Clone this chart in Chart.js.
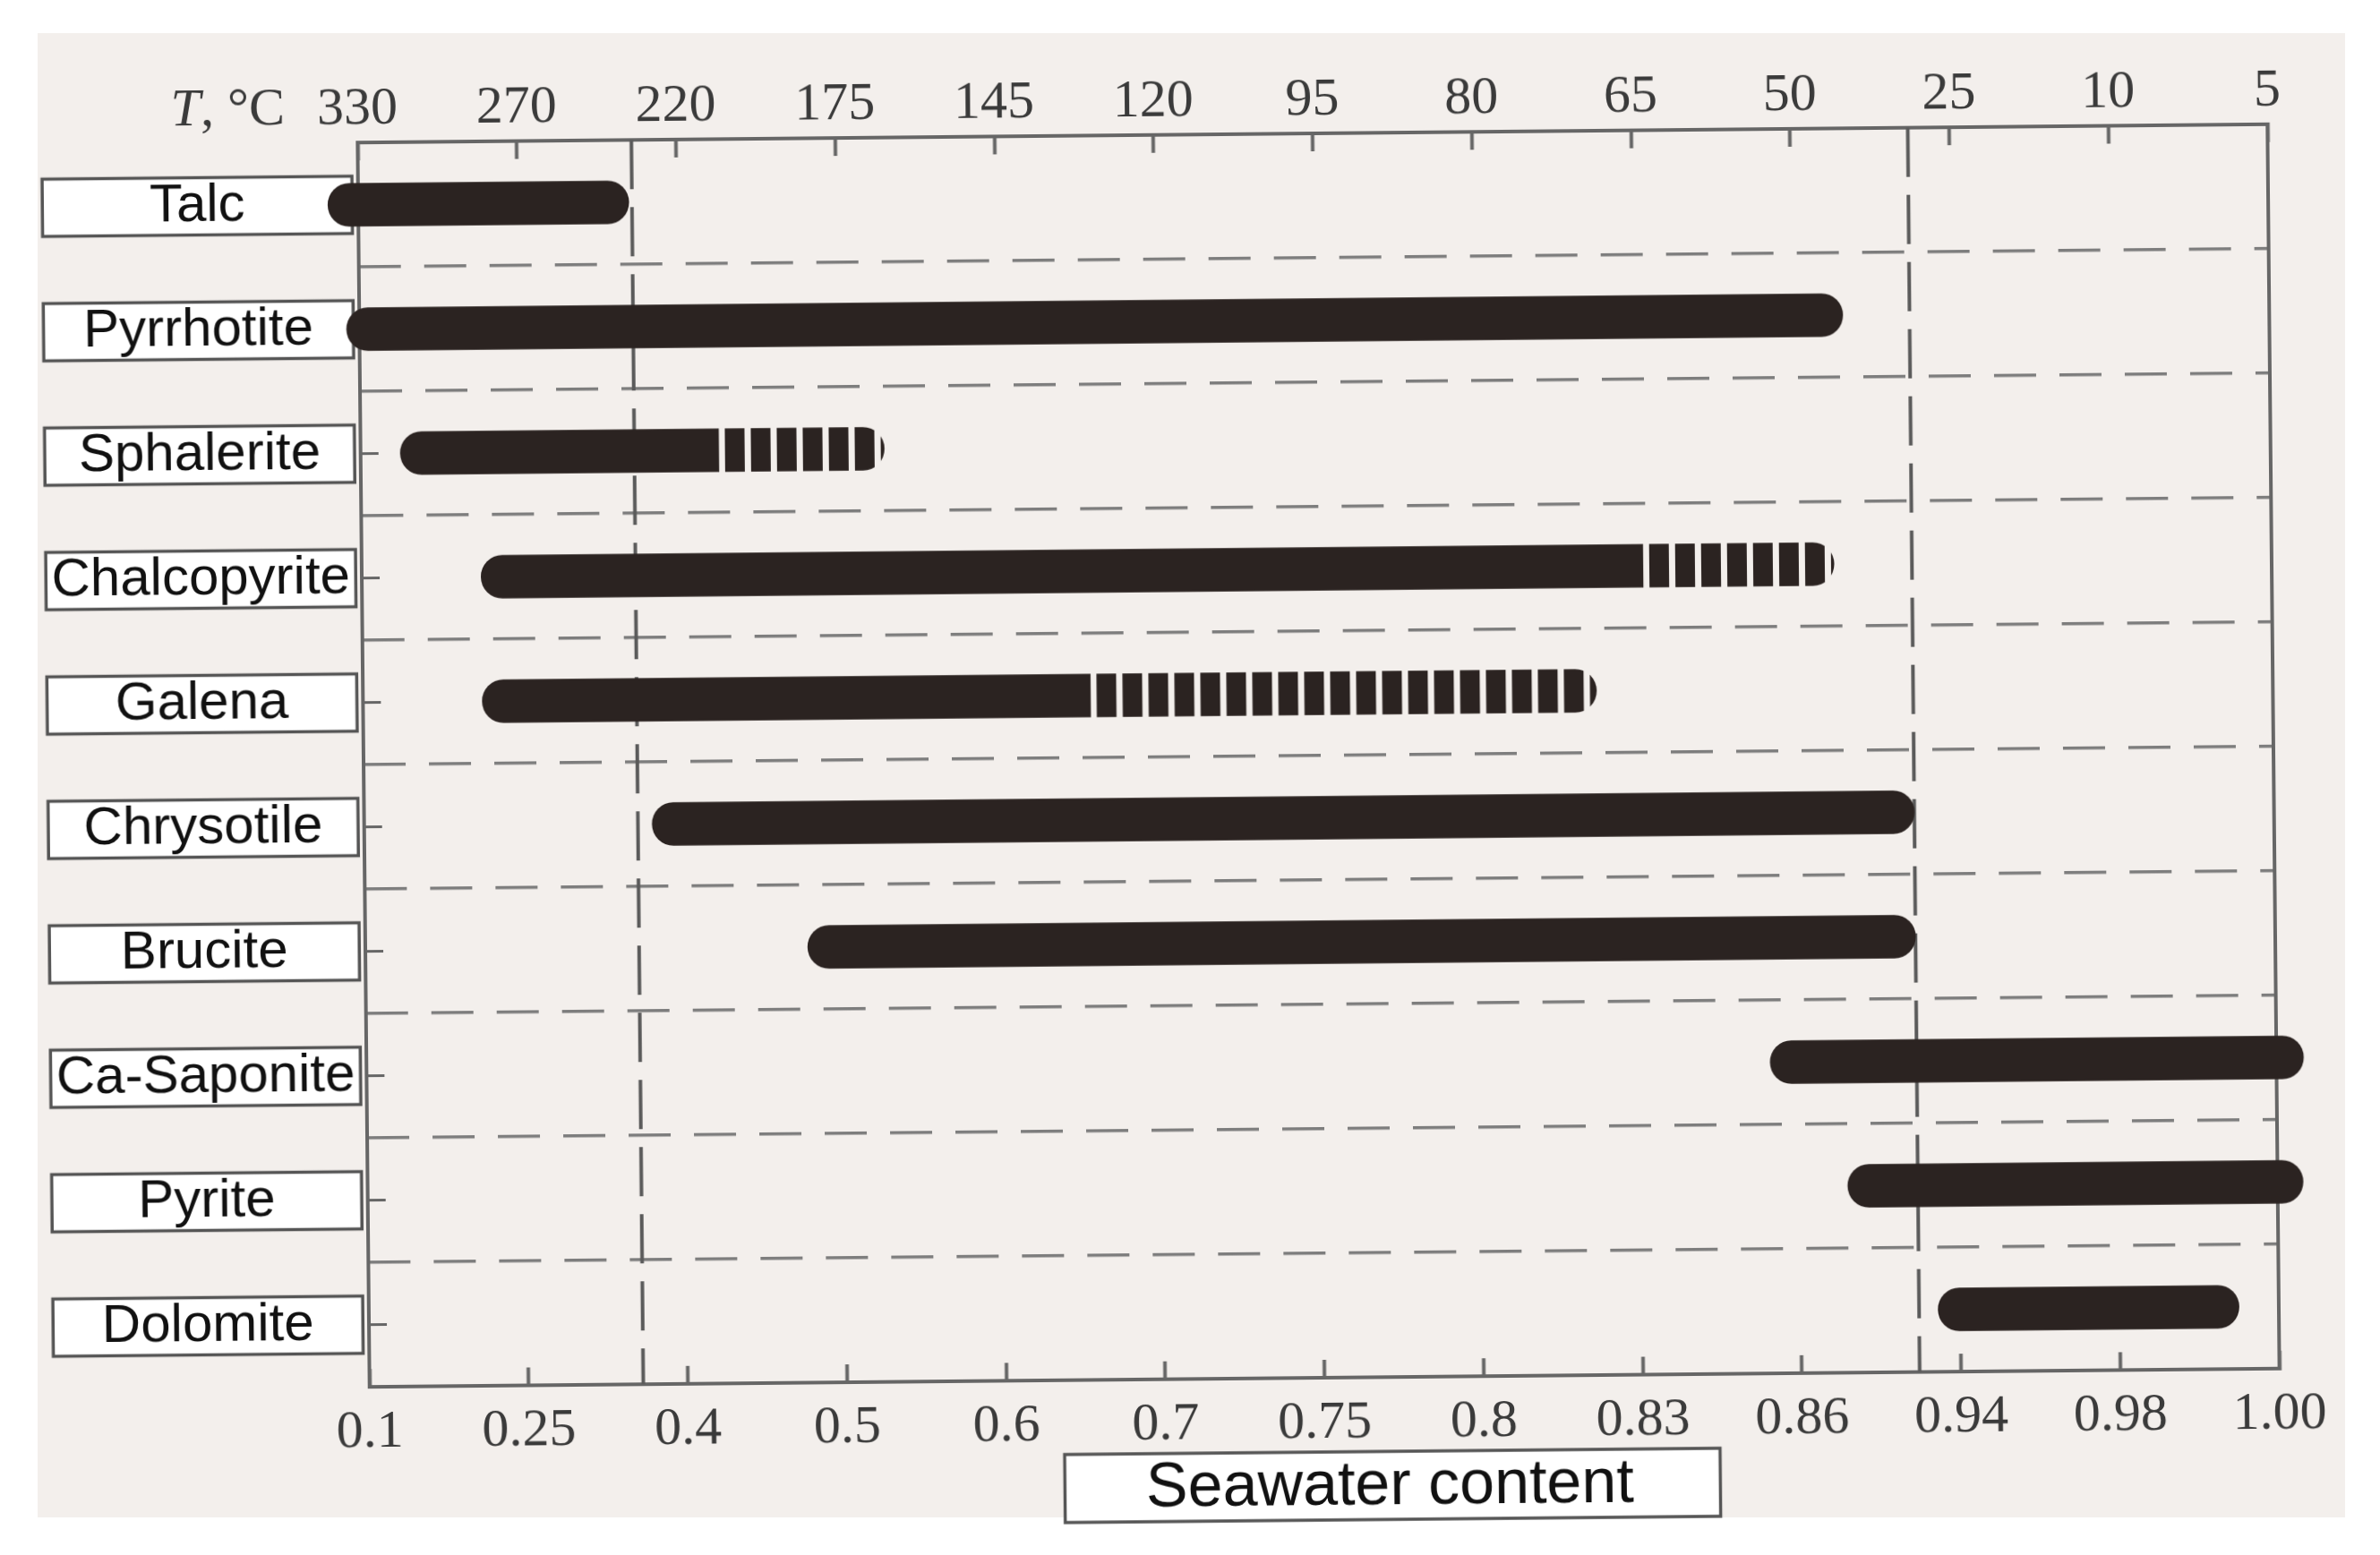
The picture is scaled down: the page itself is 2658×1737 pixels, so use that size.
<!DOCTYPE html>
<html>
<head>
<meta charset="utf-8">
<title>Mineral assemblages vs seawater content</title>
<script src="https://cdn.jsdelivr.net/npm/chart.js@4.4.1/dist/chart.umd.min.js"></script>
<style>
  html, body { margin: 0; padding: 0; background: #fff; overflow: hidden; }
  #page { position: absolute; left: 42px; top: 37px; width: 2577px; height: 1658px; background: #f3efec; }
  /* the scanned figure sits slightly tilted on the page */
  #wrap { position: absolute; left: 0; top: 0; width: 2658px; height: 1737px;
          transform: rotate(-0.55deg); transform-origin: 1472px 844px; }
</style>
</head>
<body>
<div id="page"></div>
<div id="wrap"><canvas id="chart"></canvas></div>
<script>
const minerals = ['Talc', 'Pyrrhotite', 'Sphalerite', 'Chalcopyrite', 'Galena', 'Chrysotile', 'Brucite', 'Ca-Saponite', 'Pyrite', 'Dolomite'];
const seawater = ['0.1', '0.25', '0.4', '0.5', '0.6', '0.7', '0.75', '0.8', '0.83', '0.86', '0.94', '0.98', '1.00'];
const temps = ['330', '270', '220', '175', '145', '120', '95', '80', '65', '50', '25', '10', '5'];

// bar extents on the tick-index scale (0 = first tick, 12 = last tick)
const barStart = [-0.19, -0.08, 0.25, 0.75, 0.75, 1.81, 2.78, 8.82, 9.30, 9.86];
const stripeStart = [null, null, 2.25, 8.05, 4.57, null, null, null, null, null];
const barEnd = [1.70, 9.32, 3.29, 9.25, 7.75, 9.74, 9.74, 12.17, 12.16, 11.75];
const boundaries = [1.72, 9.74];

const barColor = '#2b2321';
const pageColor = '#f3efec';
const frameColor = '#666';
const tickColor = '#3a3a3a';
const serif = '"Liberation Serif", "Times New Roman", serif';
const sans = '"Liberation Sans", Arial, sans-serif';

Chart.defaults.font.family = serif;

// striped fill for the uncertain part, aligned to the bar start
function stripes(chart, startPx) {
  const c = document.createElement('canvas');
  c.width = 29; c.height = 4;
  const g = c.getContext('2d');
  g.fillStyle = pageColor; g.fillRect(0, 0, 29, 4);
  g.fillStyle = barColor; g.fillRect(7, 0, 22, 4);
  const p = chart.ctx.createPattern(c, 'repeat');
  p.setTransform(new DOMMatrix([1, 0, 0, 1, startPx, 0]));
  return p;
}

const labelBoxes = {
  id: 'labelBoxes',
  beforeDraw(chart) {
    const s = chart.scales.y, ctx = chart.ctx;
    ctx.save();
    ctx.font = '60px ' + sans;
    const widest = Math.max(...minerals.map(m => ctx.measureText(m).width));
    const cx = s.right + 20 - 33 - widest / 2;
    ctx.fillStyle = '#fff';
    ctx.strokeStyle = '#555';
    ctx.lineWidth = 3.5;
    s.ticks.forEach((t, i) => {
      const y = s.getPixelForTick(i);
      ctx.fillRect(cx - 173, y - 32, 346, 64);
      ctx.strokeRect(cx - 173, y - 32, 346, 64);
    });
    ctx.restore();
  },
  beforeDatasetsDraw(chart) {
    const {ctx, chartArea} = chart, x = chart.scales.x;
    ctx.save();
    ctx.strokeStyle = '#5a5a5a';
    ctx.lineWidth = 4;
    ctx.setLineDash([55, 20]);
    boundaries.forEach(b => {
      const px = x.getPixelForValue(b);
      ctx.beginPath();
      ctx.moveTo(px, chartArea.top);
      ctx.lineTo(px, chartArea.bottom);
      ctx.stroke();
    });
    ctx.restore();
  },
  afterDraw(chart) {
    const {ctx, chartArea} = chart;
    ctx.save();
    // T, °C in front of the top axis
    const ty = chartArea.top - 37;
    const tx = chart.scales.x2.getPixelForValue(0) - 81;
    ctx.fillStyle = tickColor;
    ctx.textBaseline = 'middle';
    ctx.textAlign = 'right';
    ctx.font = '60px ' + serif;
    const rest = ', °C';
    ctx.fillText(rest, tx, ty);
    const w = ctx.measureText(rest).width;
    ctx.font = 'italic 60px ' + serif;
    ctx.fillText('T', tx - w, ty);

    // boxed axis title
    const bx = (chartArea.left + chartArea.right) / 2 + 75;
    const by = chartArea.bottom + 121;
    ctx.fillStyle = '#fff';
    ctx.strokeStyle = '#555';
    ctx.lineWidth = 3.5;
    ctx.fillRect(bx - 366, by - 38, 732, 76);
    ctx.strokeRect(bx - 366, by - 38, 732, 76);
    ctx.fillStyle = '#111';
    ctx.textAlign = 'center';
    ctx.font = '70px ' + sans;
    ctx.fillText('Seawater content', bx - 3, by + 2);
    ctx.restore();
  }
};

const xTicks = (labels, pad) => ({
  stepSize: 1, autoSkip: false, maxRotation: 0, padding: pad,
  color: tickColor, font: { family: serif, size: 60 },
  callback: v => labels[v]
});
const inwardTicks = { drawOnChartArea: false, drawTicks: true, tickLength: -20, tickWidth: 4, tickColor: frameColor };
const frame = { color: frameColor, width: 4 };

new Chart(document.getElementById('chart'), {
  type: 'bar',
  data: {
    labels: minerals,
    datasets: [
      {
        label: 'stable',
        data: minerals.map((m, i) => [barStart[i], stripeStart[i] ?? barEnd[i]]),
        backgroundColor: barColor,
        borderSkipped: false,
        borderRadius: c => stripeStart[c.dataIndex] == null ? 50 : { topLeft: 50, bottomLeft: 50, topRight: 0, bottomRight: 0 },
        barThickness: 48,
        grouped: false,
        clip: false
      },
      {
        label: 'possible',
        data: minerals.map((m, i) => stripeStart[i] == null ? null : [stripeStart[i], barEnd[i]]),
        backgroundColor: c => c.raw ? stripes(c.chart, c.chart.scales.x.getPixelForValue(c.raw[0])) : barColor,
        borderSkipped: false,
        borderRadius: { topLeft: 0, bottomLeft: 0, topRight: 50, bottomRight: 50 },
        barThickness: 48,
        grouped: false,
        clip: false
      }
    ]
  },
  options: {
    indexAxis: 'y',
    responsive: true,
    maintainAspectRatio: false,
    animation: false,
    events: [],
    layout: { padding: { left: 6, right: 119, top: 55, bottom: 76 } },
    plugins: { legend: { display: false }, tooltip: { enabled: false } },
    scales: {
      x: {
        type: 'linear', position: 'bottom', min: 0, max: 12,
        ticks: xTicks(seawater, 35),
        grid: inwardTicks,
        border: frame
      },
      x2: {
        type: 'linear', position: 'top', min: 0, max: 12,
        ticks: xTicks(temps, 21),
        grid: inwardTicks,
        border: frame
      },
      y: {
        type: 'category', position: 'left', offset: true,
        ticks: { crossAlign: 'center', padding: 33, color: '#111', font: { family: sans, size: 60 } },
        grid: { offset: false, drawOnChartArea: false, drawTicks: true, tickLength: -20, tickWidth: 3, tickColor: frameColor },
        border: frame,
        afterFit: s => { s.width = 400; }
      },
      yR: {
        type: 'category', position: 'right', offset: true,
        ticks: { display: false },
        grid: {
          offset: true, drawTicks: false, lineWidth: 3.5,
          color: c => (c.type !== 'tick' || c.index === 0) ? 'rgba(0,0,0,0)' : '#7d7d7d'
        },
        border: { color: frameColor, width: 4, dash: [47, 26] }
      }
    }
  },
  plugins: [labelBoxes]
});
</script>
</body>
</html>
